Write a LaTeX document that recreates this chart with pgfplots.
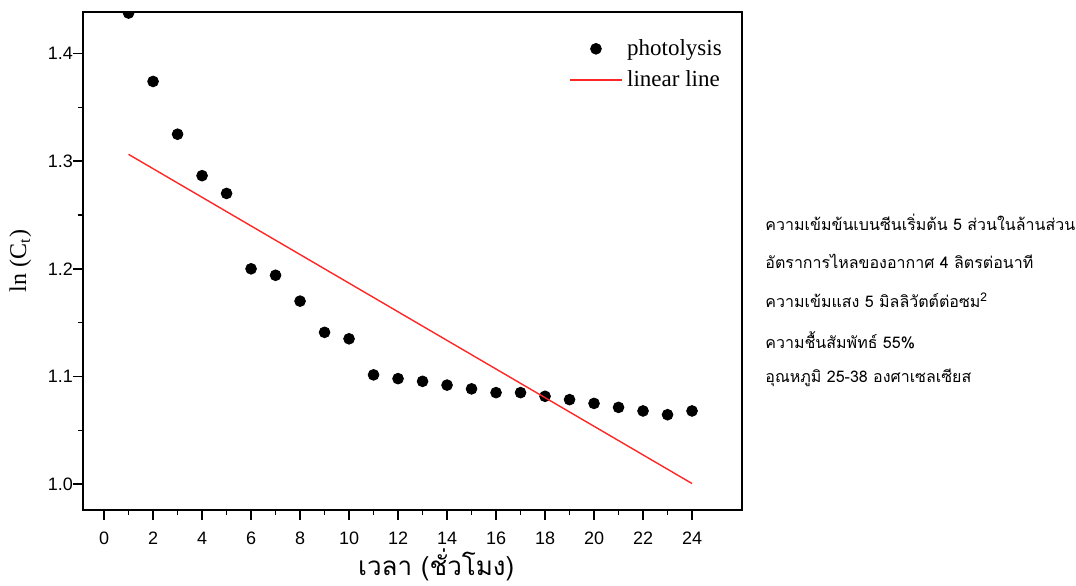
\documentclass[border=0pt]{standalone}
\usepackage{fontspec}
\setmainfont{Liberation Serif}
\newfontfamily\ticksans{Liberation Sans}
\newfontfamily\thaifont[Script=Thai]{Loma}
\usepackage{pgfplots}
\pgfplotsset{compat=1.18}
\pgfplotsset{
  dotlegend/.style={legend image code/.code={\draw[##1] plot coordinates {(0.46cm,0cm)};}},
  linelegend/.style={legend image code/.code={\draw[##1, line width=1pt] (0cm,0cm) -- (0.92cm,0cm);}},
}

\begin{document}
\begin{tikzpicture}
\begin{axis}[
  name=ax,
  scale only axis,
  width=329.5pt, height=249pt,
  xmin=-0.86, xmax=26.04,
  ymin=0.976, ymax=1.4385,
  xtick={0,2,...,24},
  ytick={1.0,1.1,1.2,1.3,1.4},
  minor x tick num=1,
  minor y tick num=1,
  xtick pos=bottom, ytick pos=left,
  tick align=outside,
  major tick length=5pt, minor tick length=2.5pt,
  axis line style={line width=0.9pt},
  every tick/.style={black, line width=0.7pt},
  /pgf/number format/assume math mode=true,
  /pgf/number format/fixed, /pgf/number format/fixed zerofill,
  yticklabel style={/pgf/number format/precision=1, font=\ticksans\fontsize{9}{10}\selectfont, xshift=3.5pt},
  xticklabel style={/pgf/number format/precision=0, font=\ticksans\fontsize{9}{10}\selectfont, yshift=-2.5pt},
  clip marker paths=true,
  xlabel={\thaifont\fontsize{13}{15}\selectfont เวลา (ชั่วโมง)},
  ylabel={\fontsize{12}{14}\selectfont ln (C\textsubscript{t})},
  every axis x label/.style={at={(axis description cs:0.536,-0.131)}, anchor=base},
  every axis y label/.style={at={(axis description cs:-0.095,0.5)}, anchor=center, rotate=90},
  legend style={draw=none, fill=none, at={(axis description cs:0.985,0.962)}, anchor=north east,
    font=\fontsize{11.5}{13}\selectfont, row sep=2pt},
  legend cell align=left,
]
\addplot[only marks, mark=*, mark size=2.7pt, black, dotlegend] coordinates {
  (1,1.4375) (2,1.374) (3,1.325) (4,1.2865) (5,1.270) (6,1.200) (7,1.194) (8,1.170)
  (9,1.141) (10,1.135) (11,1.1015) (12,1.098) (13,1.0955) (14,1.092) (15,1.0885)
  (16,1.085) (17,1.085) (18,1.0816) (19,1.0785) (20,1.075) (21,1.0713) (22,1.068)
  (23,1.0645) (24,1.068)
};
\addlegendentry{photolysis}
\addplot[red!85!white, line width=0.7pt, no marks, linelegend] coordinates {(1,1.3063) (24,1.0006)};
\addlegendentry{linear line}
\end{axis}
\begin{scope}[every node/.style={anchor=west, inner sep=0pt, font=\thaifont\fontsize{8}{9}\selectfont}]
\node at ([xshift=11.5pt,yshift=144pt]ax.south east) {ความเข้มข้นเบนซีนเริ่มต้น 5 ส่วนในล้านส่วน};
\node at ([xshift=11.5pt,yshift=124.5pt]ax.south east) {อัตราการไหลของอากาศ 4 ลิตรต่อนาที};
\node at ([xshift=11.5pt,yshift=105pt]ax.south east) {ความเข้มแสง 5 มิลลิวัตต์ต่อซม\textsuperscript{2}};
\node at ([xshift=11.5pt,yshift=85pt]ax.south east) {ความชื้นสัมพัทธ์ 55\%};
\node at ([xshift=11.5pt,yshift=66pt]ax.south east) {อุณหภูมิ 25-38 องศาเซลเซียส};
\end{scope}
\pgfresetboundingbox
\path[use as bounding box] ([xshift=-41.5pt,yshift=-37.5pt]ax.south west) rectangle ([xshift=496.5pt,yshift=255pt]ax.south west);
\end{tikzpicture}
\end{document}
